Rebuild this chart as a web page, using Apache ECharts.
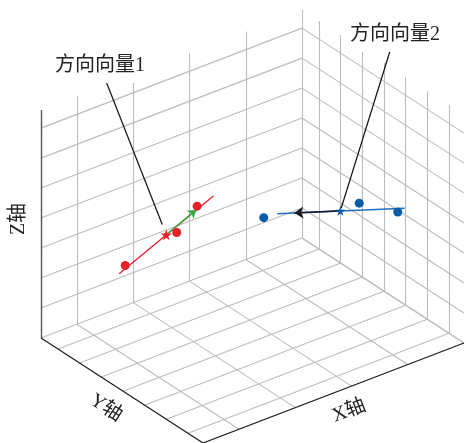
<!DOCTYPE html>
<html>
<head>
<meta charset="utf-8">
<script src="https://cdn.jsdelivr.net/npm/echarts@6/dist/echarts.min.js"></script>
<style>
html,body{margin:0;padding:0;background:#fff;}
#chart{width:466px;height:443px;}
</style>
</head>
<body>
<div id="chart"></div>
<script>
// ---------- data (3D values) ----------
const xTicks = [0, 1, 2, 3, 4];
const yTicks = [0, 1, 2, 3, 4, 5, 6];
const zTicks = [-1, 0, 1, 2, 3, 4, 5, 6];
const xRange = [-0.64, 4];
const yRange = [-0.785, 6.694];
const zRange = [-1, 6.605];

const redPoints = [[0.17, 1.0, 1.67], [0.70, 2.0, 2.86], [0.87, 2.5, 3.85]];
const redCenter = [0.58, 1.83, 2.79];
const redLine = [[0.12, 0.85, 1.36], [1.04, 2.81, 4.21]];
const redArrowTip = [0.87, 2.46, 3.71];

const bluePoints = [[2.44, 1.5, 1.87], [3.56, 3.0, 2.25], [3.86, 4.0, 2.21]];
const blueCenter = [3.29, 2.83, 2.11];
const blueLine = [[2.62, 1.66, 1.95], [3.97, 4.03, 2.27]];
const blueArrowTip = [2.80, 1.98, 1.99];

const axisNames = ['X轴', 'Y轴', 'Z轴'];
const annotationTexts = ['方向向量1', '方向向量2'];

// ---------- layout: simple 3D -> screen projection ----------
const O = [41, 338], EX = [261, -100], EY = [162, 105], EZ = [0, -228];
function proj(p) {
  const u = (p[0] - xRange[0]) / (xRange[1] - xRange[0]);
  const v = (p[1] - yRange[0]) / (yRange[1] - yRange[0]);
  const w = (p[2] - zRange[0]) / (zRange[1] - zRange[0]);
  return [O[0] + u * EX[0] + v * EY[0] + w * EZ[0],
          O[1] + u * EX[1] + v * EY[1] + w * EZ[1]];
}
function seg(a, b) { return { coords: [proj(a), proj(b)] }; }
const [x0, x1] = xRange, [y0, y1] = yRange, [z0, z1] = zRange;

const gridSegs = [];
xTicks.forEach(t => { gridSegs.push(seg([t, y0, z0], [t, y0, z1])); gridSegs.push(seg([t, y0, z0], [t, y1, z0])); });
yTicks.forEach(t => { gridSegs.push(seg([x1, t, z0], [x1, t, z1])); gridSegs.push(seg([x0, t, z0], [x1, t, z0])); });
zTicks.forEach(t => { gridSegs.push(seg([x0, y0, t], [x1, y0, t])); gridSegs.push(seg([x1, y0, t], [x1, y1, t])); });

const FONT_FAMILY = '"Liberation Serif", "Noto Sans CJK SC", serif';
const STAR = 'path://M50,0 L61,35 L98,35 L68,57 L79,91 L50,70 L21,91 L32,57 L2,35 L39,35 Z';

// annotation layout (screen positions of labels) and leader targets
const annPos = [[100, 66], [395, 35]];
const annTargets = [redCenter, blueCenter];
const annShrink = [11, 3];
const leaderSegs = annPos.map((p, i) => {
  const t = proj(annTargets[i]);
  const dx = t[0] - p[0], dy = t[1] - p[1], L = Math.hypot(dx, dy);
  const k = (L - annShrink[i]) / L;
  return { coords: [p, [p[0] + dx * k, p[1] + dy * k]] };
});

// axis label layout
const zMid = proj([x0, y0, (z0 + z1) / 2]);
const yMid = proj([x0, (y0 + y1) / 2, z0]);
const xMid = proj([(x0 + x1) / 2, y1, z0]);
const axisLabelPos = [
  [xMid[0] + 15.5, xMid[1] + 18, Math.atan2(-EX[1], EX[0])],
  [yMid[0] - 16, yMid[1] + 17.5, -Math.atan2(EY[1], EY[0])],
  [zMid[0] - 22, zMid[1] - 5, Math.PI / 2]
];

const chart = echarts.init(document.getElementById('chart'), null, { renderer: 'canvas' });
const option = {
  animation: false,
  backgroundColor: '#fff',
  grid: { left: 0, right: 0, top: 0, bottom: 0 },
  xAxis: { type: 'value', min: 0, max: 466, show: false },
  yAxis: { type: 'value', min: 0, max: 443, inverse: true, show: false },
  series: [
    { type: 'lines', coordinateSystem: 'cartesian2d', z: 1, silent: true,
      lineStyle: { color: '#bcbcbc', width: 1.1, opacity: 1 }, data: gridSegs },
    { type: 'lines', coordinateSystem: 'cartesian2d', z: 2, silent: true,
      lineStyle: { color: '#555', width: 1.4, opacity: 1 },
      data: [seg([x0, y0, z0], [x0, y0, z1])] },
    { type: 'lines', coordinateSystem: 'cartesian2d', z: 2, silent: true,
      lineStyle: { color: '#1a1a1a', width: 1.2, opacity: 1 },
      data: [seg([x0, y0, z0], [x0, y1, z0]), seg([x0, y1, z0], [x1, y1, z0])] },
    { type: 'lines', coordinateSystem: 'cartesian2d', z: 3, silent: true,
      lineStyle: { color: '#e8202a', width: 1.3, opacity: 1 },
      data: [seg(redLine[0], redLine[1])] },
    { type: 'lines', coordinateSystem: 'cartesian2d', z: 3, silent: true,
      lineStyle: { color: '#1f6fc0', width: 1.5, opacity: 1 },
      data: [seg(blueLine[0], blueLine[1])] },
    { type: 'lines', coordinateSystem: 'cartesian2d', z: 4, silent: true,
      symbol: ['none', 'arrow'], symbolSize: 8,
      lineStyle: { color: '#3aa847', width: 1.5, opacity: 1 },
      data: [seg(redCenter, redArrowTip)] },
    { type: 'lines', coordinateSystem: 'cartesian2d', z: 4, silent: true,
      symbol: ['none', 'arrow'], symbolSize: 9,
      lineStyle: { color: '#141820', width: 1.6, opacity: 1 },
      data: [seg(blueCenter, blueArrowTip)] },
    { type: 'scatter', z: 5, silent: true, symbol: 'circle', symbolSize: 9,
      itemStyle: { color: '#e8202a', opacity: 1 }, data: redPoints.map(proj) },
    { type: 'scatter', z: 5, silent: true, symbol: 'circle', symbolSize: 9,
      itemStyle: { color: '#0a5aaa', opacity: 1 }, data: bluePoints.map(proj) },
    { type: 'scatter', z: 6, silent: true, symbol: STAR, symbolSize: 11,
      itemStyle: { color: '#e8202a', opacity: 1 }, data: [proj(redCenter)] },
    { type: 'scatter', z: 6, silent: true, symbol: STAR, symbolSize: 10,
      itemStyle: { color: '#0a5aaa', opacity: 1 }, data: [proj(blueCenter)] },
    { type: 'lines', coordinateSystem: 'cartesian2d', z: 7, silent: true,
      lineStyle: { color: '#111', width: 1.2, opacity: 1 }, data: leaderSegs }
  ],
  graphic: [
    ...annotationTexts.map((t, i) => ({
      type: 'text', z: 100, x: annPos[i][0], y: annPos[i][1], silent: true,
      style: { text: t, font: '20px ' + FONT_FAMILY, fill: '#222',
        textAlign: 'center', textVerticalAlign: 'middle', align: 'center', verticalAlign: 'middle',
        backgroundColor: '#fff', padding: [7, 6, 7, 6] }
    })),
    ...axisNames.map((t, i) => ({
      type: 'text', z: 100, x: axisLabelPos[i][0], y: axisLabelPos[i][1], rotation: axisLabelPos[i][2], silent: true,
      style: { text: t, font: '20px ' + FONT_FAMILY, fill: '#222',
        textAlign: 'center', textVerticalAlign: 'middle', align: 'center', verticalAlign: 'middle' }
    }))
  ]
};
chart.setOption(option);
</script>
</body>
</html>
